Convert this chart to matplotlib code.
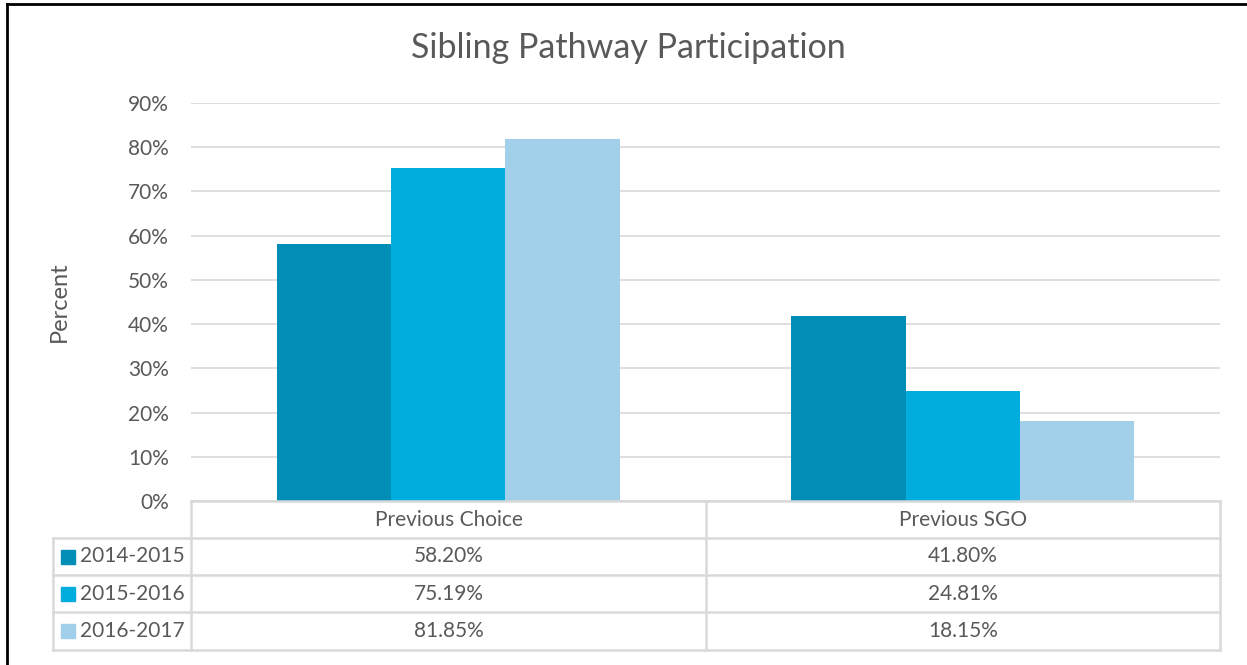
import matplotlib.pyplot as plt
from matplotlib.patches import Rectangle
from matplotlib.lines import Line2D
import numpy as np

# data
categories = ["Previous Choice", "Previous SGO"]
series_names = ["2014-2015", "2015-2016", "2016-2017"]
values_2014 = [58.20, 41.80]
values_2015 = [75.19, 24.81]
values_2016 = [81.85, 18.15]
series_values = [values_2014, values_2015, values_2016]
colors = ["#008DB6", "#00ADDC", "#A2CFE9"]
yticks = [0, 10, 20, 30, 40, 50, 60, 70, 80, 90]

W, H = 1247, 665
txt = "#595959"
grid = "#D9D9D9"
fs = 15
plt.rcParams['font.family'] = ['Lato', 'DejaVu Sans']

fig = plt.figure(figsize=(W / 100, H / 100), dpi=100)

def fx(px):
    return px / W

def fy(py):
    return 1 - py / H

# plot area in pixels
left, right, top, bottom = 191, 1220, 103, 501
ax = fig.add_axes([fx(left), fy(bottom), fx(right) - fx(left), fy(top) - fy(bottom)])

x = np.arange(len(categories))
bw = 0.222
for i, vals in enumerate(series_values):
    ax.bar(x + (i - 1) * bw, vals, width=bw, color=colors[i], zorder=2)

ax.set_xlim(-0.5, len(categories) - 0.5)
ax.set_ylim(0, 90)
ax.set_yticks(yticks)
ax.set_yticklabels([f"{t}%" for t in yticks], fontsize=fs, color=txt)
ax.set_xticks([])
ax.tick_params(axis="y", length=0, pad=16)
ax.grid(axis="y", color=grid, linewidth=1.2, zorder=0)
for s in ax.spines.values():
    s.set_visible(False)
ax.set_ylabel("Percent", fontsize=17, color=txt, labelpad=42)

fig.text(fx(628), fy(48), "Sibling Pathway Participation",
         ha="center", va="center", fontsize=24.5, color=txt)

# data table under the axis
col_x = [left, 706, right]
row_y = [bottom, 538, 575, 612, 650]
lab_left = 53
lw = 1.8

def hline(x0, x1, y):
    fig.add_artist(Line2D([fx(x0), fx(x1)], [fy(y), fy(y)], color=grid, linewidth=lw))

def vline(xp, y0, y1):
    fig.add_artist(Line2D([fx(xp), fx(xp)], [fy(y0), fy(y1)], color=grid, linewidth=lw))

hline(left, right, row_y[0])
for y in row_y[1:]:
    hline(lab_left, right, y)
for xp in col_x:
    vline(xp, row_y[0], row_y[-1])
vline(lab_left, row_y[1], row_y[-1])

for j, cat in enumerate(categories):
    cx = 0.5 * (col_x[j] + col_x[j + 1])
    fig.text(fx(cx), fy(0.5 * (row_y[0] + row_y[1])), cat, ha="center", va="center",
             fontsize=fs, color=txt)

for i, name in enumerate(series_names):
    cy = 0.5 * (row_y[i + 1] + row_y[i + 2])
    fig.add_artist(Rectangle((fx(61), fy(cy + 7)), fx(14), 14 / H, color=colors[i],
                             transform=fig.transFigure))
    fig.text(fx(80), fy(cy), name, ha="left", va="center", fontsize=fs, color=txt)
    for j in range(len(categories)):
        cx = 0.5 * (col_x[j] + col_x[j + 1])
        fig.text(fx(cx), fy(cy), f"{series_values[i][j]:.2f}%", ha="center", va="center",
                 fontsize=fs, color=txt)

# outer chart border (only top and left visible in the crop)
fig.add_artist(Line2D([fx(7), fx(7)], [0, fy(4)], color="black", linewidth=2))
fig.add_artist(Line2D([fx(7), 1], [fy(4), fy(4)], color="black", linewidth=2))

plt.savefig("out.png", dpi=100)
